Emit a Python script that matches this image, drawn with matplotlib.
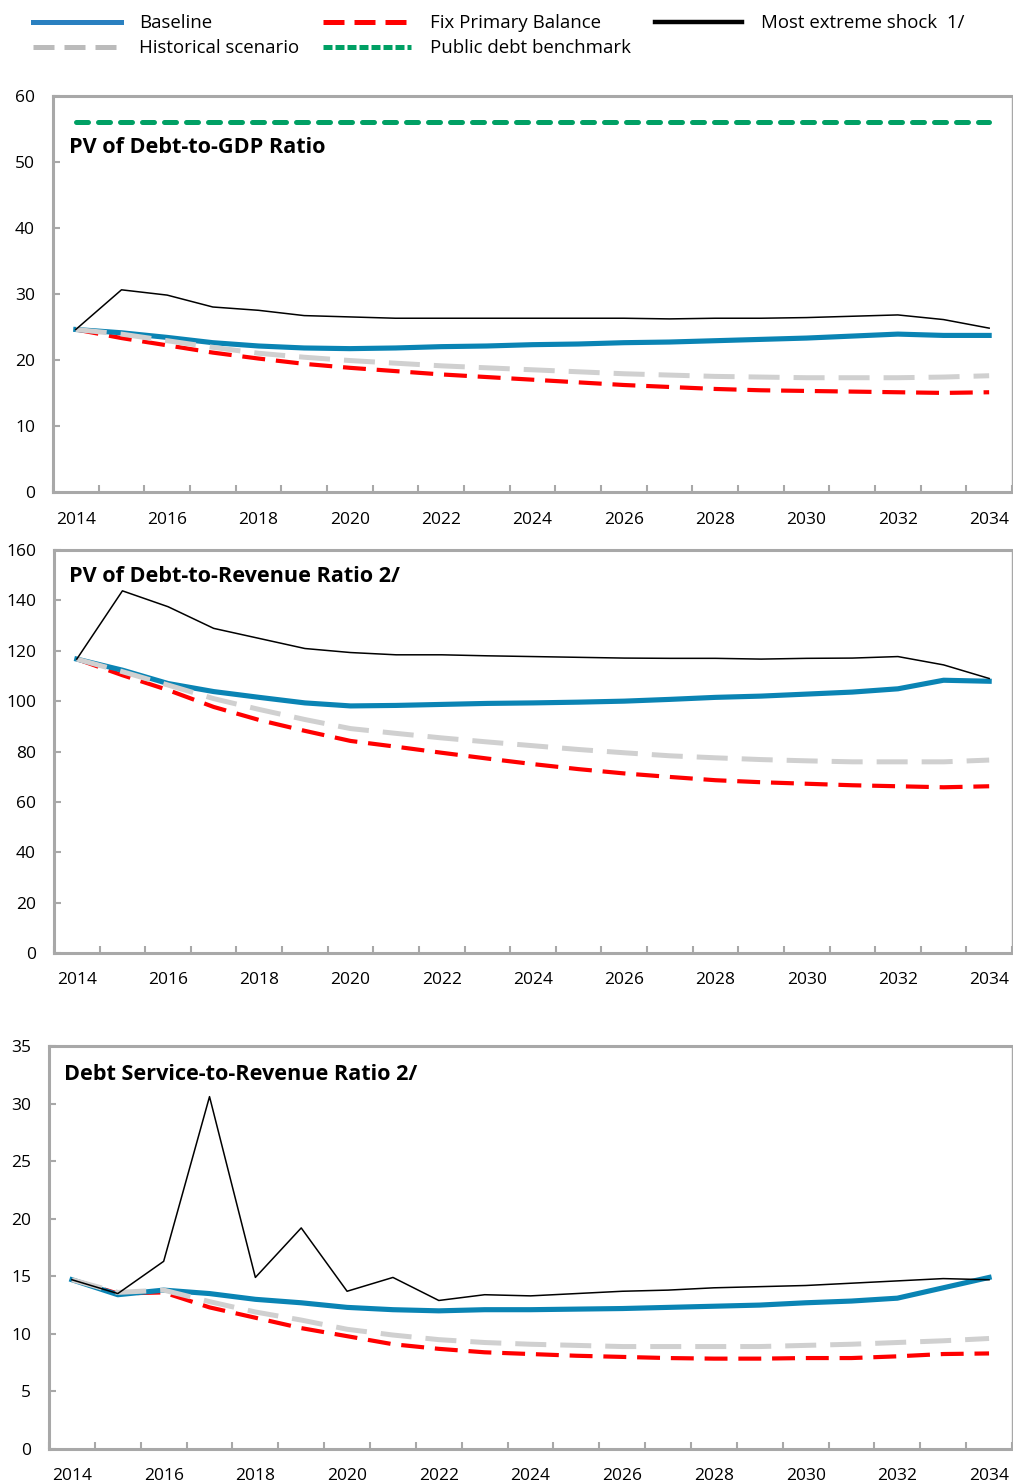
import numpy as np
import matplotlib
matplotlib.use("Agg")
import matplotlib.pyplot as plt
from matplotlib.lines import Line2D

plt.rcParams['font.family'] = ['Open Sans', 'DejaVu Sans']

# --- DATA ---
years = list(range(2014, 2035))

# PV of Debt-to-GDP ratio
gdp_baseline = [24.6, 24.1, 23.4, 22.6, 22.1, 21.8, 21.7, 21.8, 22.0, 22.1, 22.3,
                22.4, 22.6, 22.7, 22.9, 23.1, 23.3, 23.6, 23.9, 23.7, 23.7]
gdp_historical = [24.6, 23.9, 22.9, 21.9, 21.0, 20.4, 19.9, 19.5, 19.1, 18.8, 18.5,
                  18.2, 17.9, 17.7, 17.5, 17.4, 17.3, 17.3, 17.3, 17.4, 17.6]
gdp_fixpb = [24.6, 23.3, 22.2, 21.1, 20.2, 19.4, 18.8, 18.3, 17.8, 17.4, 17.0,
             16.6, 16.2, 15.9, 15.6, 15.4, 15.3, 15.2, 15.1, 15.0, 15.1]
gdp_shock = [24.6, 30.6, 29.8, 28.0, 27.5, 26.7, 26.5, 26.3, 26.3, 26.3, 26.3,
             26.3, 26.3, 26.2, 26.3, 26.3, 26.4, 26.6, 26.8, 26.1, 24.8]
gdp_benchmark = [56] * 21

# PV of Debt-to-Revenue ratio
rev_baseline = [116.7, 112.3, 107.0, 103.8, 101.5, 99.3, 98.1, 98.3, 98.7, 99.1, 99.3,
                99.6, 100.0, 100.7, 101.5, 102.0, 102.8, 103.6, 104.9, 108.3, 107.9]
rev_historical = [116.7, 111.7, 106.4, 101.0, 96.7, 92.7, 89.1, 87.2, 85.4, 83.8, 82.3,
                  80.8, 79.5, 78.3, 77.5, 76.8, 76.3, 75.9, 75.9, 75.9, 76.6]
rev_fixpb = [116.7, 110.3, 104.4, 97.7, 92.5, 88.2, 84.2, 81.9, 79.5, 77.2, 75.0,
             73.0, 71.3, 69.9, 68.6, 67.8, 67.2, 66.6, 66.2, 65.8, 66.2]
rev_shock = [116.7, 143.8, 137.5, 128.9, 124.9, 120.9, 119.3, 118.4, 118.4, 118.0, 117.7,
             117.4, 117.1, 117.0, 117.0, 116.7, 117.0, 117.1, 117.7, 114.4, 109.0]

# Debt service-to-Revenue ratio
ds_baseline = [14.7, 13.4, 13.8, 13.5, 13.0, 12.7, 12.3, 12.1, 12.0, 12.1, 12.1,
               12.15, 12.2, 12.3, 12.4, 12.5, 12.7, 12.85, 13.1, 14.0, 14.9]
ds_historical = [14.7, 13.6, 13.8, 12.8, 11.9, 11.2, 10.4, 9.9, 9.5, 9.25, 9.1,
                 9.0, 8.9, 8.9, 8.9, 8.9, 9.0, 9.1, 9.25, 9.4, 9.6]
ds_fixpb = [14.7, 13.5, 13.6, 12.3, 11.4, 10.5, 9.8, 9.1, 8.7, 8.4, 8.25,
            8.1, 8.0, 7.9, 7.85, 7.85, 7.9, 7.9, 8.05, 8.25, 8.3]
ds_shock = [14.7, 13.5, 16.3, 30.6, 14.9, 19.2, 13.7, 14.9, 12.9, 13.4, 13.3,
            13.5, 13.7, 13.8, 14.0, 14.1, 14.2, 14.4, 14.6, 14.8, 14.7]

titles = ["PV of Debt-to-GDP Ratio", "PV of Debt-to-Revenue Ratio 2/",
          "Debt Service-to-Revenue Ratio 2/"]
legend_labels = ["Baseline", "Historical scenario", "Fix Primary Balance",
                 "Public debt benchmark", "Most extreme shock  1/"]

# --- STYLE ---
BLUE = "#0A84B4"
RED = "#FF0000"
GRAY = "#D0D0D0"
GREEN = "#00A064"
SPINE = "#A8A8A8"

fig = plt.figure(figsize=(10.13, 14.83), dpi=100)

panels = [
    dict(rect=[0.0523, 0.6682, 0.9467, 0.2674], ymax=60, step=10,
         data=(gdp_baseline, gdp_historical, gdp_fixpb, gdp_shock), bench=gdp_benchmark,
         tpos=(0.0167, 0.870)),
    dict(rect=[0.0533, 0.3574, 0.9457, 0.2717], ymax=160, step=20,
         data=(rev_baseline, rev_historical, rev_fixpb, rev_shock), bench=None,
         tpos=(0.0157, 0.935)),
    dict(rect=[0.0484, 0.0229, 0.9506, 0.2718], ymax=35, step=5,
         data=(ds_baseline, ds_historical, ds_fixpb, ds_shock), bench=None,
         tpos=(0.0156, 0.928)),
]

x = np.arange(len(years))
for i, p in enumerate(panels):
    ax = fig.add_axes(p["rect"])
    base, hist, fixpb, shock = p["data"]
    ax.plot(x, fixpb, color=RED, lw=3.0, dashes=(5.5, 2.6), zorder=2)
    ax.plot(x, base, color=BLUE, lw=3.7, zorder=3)
    ax.plot(x, hist, color=GRAY, lw=3.6, dashes=(6.2, 2.8), zorder=4)
    ax.plot(x, shock, color="black", lw=1.1, zorder=5)
    if p["bench"] is not None:
        ax.plot(x, p["bench"], color=GREEN, lw=3.6, dashes=(2.4, 2.0),
                dash_capstyle="round", zorder=6)

    ax.set_xlim(-0.5, len(years) - 0.5)
    ax.set_ylim(0, p["ymax"])
    ax.set_yticks(np.arange(0, p["ymax"] + 0.1, p["step"]))
    ax.set_xticks(np.arange(-0.5, len(years), 1.0))
    ax.set_xticklabels([])
    ax.set_xticks(x[::2], minor=True)
    ax.set_xticklabels([str(y) for y in years[::2]], minor=True)
    ax.tick_params(axis="x", which="major", direction="in", length=5, width=1.5, color=SPINE)
    ax.tick_params(axis="x", which="minor", length=0, pad=14, labelsize=12.5)
    ax.tick_params(axis="y", direction="in", length=5, width=1.5, color=SPINE,
                   pad=13, labelsize=12.5)
    for side in ["left", "bottom", "top"]:
        ax.spines[side].set_color(SPINE)
        ax.spines[side].set_linewidth(2.2)
    ax.spines["right"].set_color(SPINE)
    ax.spines["right"].set_linewidth(1.0)
    ax.text(p["tpos"][0], p["tpos"][1], titles[i], transform=ax.transAxes,
            fontsize=15.6, fontweight="bold", va="center", ha="left", zorder=10)

# legend keys drawn in the legend style of the original (thicker than plot lines)
keys = [
    Line2D([], [], color="#2A80C0", lw=3.6),
    Line2D([], [], color="#BBBBBB", lw=3.6, dashes=(4.2, 2.0)),
    Line2D([], [], color=RED, lw=3.6, dashes=(4.2, 2.0)),
    Line2D([], [], color=GREEN, lw=3.6, dashes=(1.8, 0.6)),
    Line2D([], [], color="black", lw=3.2),
]
fig.legend(keys, legend_labels, ncol=3, loc="upper left", bbox_to_anchor=(0.017, 1.001),
           frameon=False, fontsize=13.4, handlelength=4.7, handletextpad=1.0,
           columnspacing=1.3, labelspacing=0.38, borderaxespad=0.45)

fig.savefig("out.png", dpi=100)
